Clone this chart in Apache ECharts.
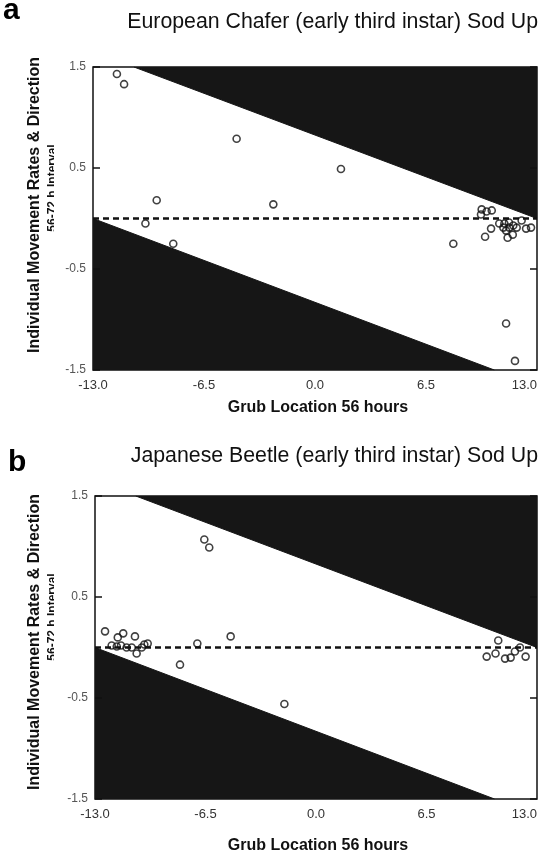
<!DOCTYPE html>
<html>
<head>
<meta charset="utf-8">
<script src="https://cdn.jsdelivr.net/npm/echarts@6/dist/echarts.min.js"></script>
<style>
html,body{margin:0;padding:0;background:#fff;}
#c{width:541px;height:854px;}
</style>
</head>
<body>
<div id="c"></div>
<script>
// ---------- data ----------
var xTicks = [-13, -6.5, 0, 6.5, 13];
var yTicks = [1.5, 0.5, -0.5, -1.5];

var chaferX = [-11.6, -11.18, -4.59, -9.27, -9.93, -8.30, -2.44, 1.52, 8.10, 11.19, 11.71,
  9.76, 10.05, 10.35, 9.72, 10.79, 11.09, 11.36, 12.10, 11.03, 11.38, 11.61, 11.19, 10.31, 9.96, 11.28, 11.58, 12.36, 12.65, 11.81];
var chaferY = [1.43, 1.33, 0.79, 0.18, -0.05, -0.25, 0.14, 0.49, -0.25, -1.04, -1.41,
  0.09, 0.07, 0.08, 0.04, -0.05, -0.05, -0.04, -0.02, -0.09, -0.09, -0.07, -0.12, -0.10, -0.18, -0.19, -0.16, -0.10, -0.09, -0.09];

var beetleX = [-6.57, -6.28, -8.0, -6.98, -5.02, -1.86,
  -12.41, -12.02, -11.72, -11.66, -11.47, -11.34, -11.14, -10.84, -10.65, -10.55, -10.25, -10.10, -9.90,
  10.72, 10.04, 10.56, 11.12, 11.45, 11.70, 12.0, 12.33];
var beetleY = [1.07, 0.99, -0.17, 0.04, 0.11, -0.56,
  0.16, 0.02, 0.01, 0.10, 0.02, 0.14, 0.0, 0.0, 0.11, -0.06, 0.0, 0.03, 0.04,
  0.07, -0.09, -0.06, -0.11, -0.10, -0.04, 0.0, -0.09];

// limits of possible movement (dark regions)
var upperBoundX = [-10.6, 13];
var upperBoundY = [1.5, 0];
var lowerBoundX = [-13, 10.5];
var lowerBoundY = [0, -1.5];
var zeroLineX = [-13, 13];
var zeroLineY = [0, 0];

var titles = ['European Chafer (early third instar) Sod Up', 'Japanese Beetle (early third instar) Sod Up'];
var panelLetters = ['a', 'b'];
var xTitle = 'Grub Location 56 hours';
var yTitle1 = 'Individual Movement Rates & Direction';
var yTitle2 = '56-72 h Interval';

// ---------- helpers ----------
function zip(xs, ys) { return xs.map(function (x, i) { return [x, ys[i]]; }); }
var FONT = '"Liberation Sans", Arial, Helvetica, sans-serif';
var DARK = '#161616';
var X_MIN = -13, X_MAX = 13;

var grids = [
  { left: 93, top: 67, width: 444, height: 303 },
  { left: 95, top: 496, width: 442, height: 303 }
];

var option = { animation: false, backgroundColor: '#fff', grid: [], xAxis: [], yAxis: [], series: [], graphic: [] };

// inward tick marks on both vertical frame edges, placed through the axis scales
function renderTicks(params, api) {
  var v = api.value(0);
  var p = api.coord([X_MIN, v]);
  var q = api.coord([X_MAX, v]);
  var st = { stroke: '#111', lineWidth: 1.5 };
  return { type: 'group', children: [
    { type: 'line', shape: { x1: p[0], y1: p[1], x2: p[0] + 7, y2: p[1] }, style: st },
    { type: 'line', shape: { x1: q[0] - 7, y1: q[1], x2: q[0], y2: q[1] }, style: st }
  ] };
}

grids.forEach(function (g, i) {
  option.grid.push({ left: g.left, top: g.top, width: g.width, height: g.height, show: true,
    containLabel: false, outerBoundsMode: 'none',
    borderColor: '#111', borderWidth: 1.5, backgroundColor: 'transparent' });
  option.xAxis.push({
    type: 'value', gridIndex: i, min: X_MIN, max: X_MAX, position: 'bottom',
    axisLine: { show: false, onZero: false }, axisTick: { show: false }, splitLine: { show: false },
    axisLabel: { customValues: xTicks, color: '#333', fontSize: 13, fontFamily: FONT, margin: 9,
      alignMaxLabel: 'right',
      formatter: function (v) { return v.toFixed(1); } }
  });
  option.yAxis.push({
    type: 'value', gridIndex: i, min: -1.5, max: 1.5, position: 'left',
    axisLine: { show: false, onZero: false }, splitLine: { show: false }, axisTick: { show: false },
    axisLabel: { customValues: yTicks, color: '#555', fontSize: 12, fontFamily: FONT, margin: 7,
      formatter: function (v) { return v.toFixed(1); } }
  });
  option.series.push({
    type: 'line', xAxisIndex: i, yAxisIndex: i, data: zip(upperBoundX, upperBoundY),
    symbol: 'none', lineStyle: { color: DARK, width: 1 }, areaStyle: { color: DARK, opacity: 1, origin: 'end' }, z: 1, silent: true
  });
  option.series.push({
    type: 'line', xAxisIndex: i, yAxisIndex: i, data: zip(lowerBoundX, lowerBoundY),
    symbol: 'none', lineStyle: { color: DARK, width: 1 }, areaStyle: { color: DARK, opacity: 1, origin: 'start' }, z: 1, silent: true
  });
  option.series.push({
    type: 'line', xAxisIndex: i, yAxisIndex: i, data: zip(zeroLineX, zeroLineY),
    symbol: 'none', lineStyle: { color: '#111', width: 2.4, type: [6, 4] }, z: 2, silent: true
  });
  option.series.push({
    type: 'custom', xAxisIndex: i, yAxisIndex: i, data: yTicks.map(function (v) { return [v]; }),
    encode: { y: 0 }, renderItem: renderTicks, clip: false, silent: true, z: 4
  });
  option.series.push({
    type: 'scatter', xAxisIndex: i, yAxisIndex: i,
    data: i === 0 ? zip(chaferX, chaferY) : zip(beetleX, beetleY),
    symbol: 'circle', symbolSize: 7,
    itemStyle: { color: 'rgba(255,255,255,0)', borderColor: '#111', borderWidth: 1.6 }, z: 3
  });
});

var titleY = [22, 456];
var letterY = [-4, 448];
var xTitleY = [408, 846];
var yTitleC = [205, 642];
var yTitle2C = [188, 617];
[0, 1].forEach(function (i) {
  option.graphic.push({ type: 'text', x: 538, y: titleY[i],
    style: { text: titles[i], font: '21.3px ' + FONT, fill: '#111', textAlign: 'right', textVerticalAlign: 'middle' } });
  option.graphic.push({ type: 'text', x: i === 0 ? 3 : 8, y: letterY[i],
    style: { text: panelLetters[i], font: 'bold 30px ' + FONT, fill: '#000', textAlign: 'left', textVerticalAlign: 'top' } });
  option.graphic.push({ type: 'text', x: 318, y: xTitleY[i],
    style: { text: xTitle, font: 'bold 16px ' + FONT, fill: '#111', textAlign: 'center', textVerticalAlign: 'middle' } });
  option.graphic.push({ type: 'text', x: 35, y: yTitleC[i], rotation: Math.PI / 2,
    style: { text: yTitle1, font: 'bold 16px ' + FONT, fill: '#111', textAlign: 'center', textVerticalAlign: 'middle' } });
  option.graphic.push({ type: 'text', x: 53, y: yTitle2C[i], rotation: Math.PI / 2,
    style: { text: yTitle2, font: 'bold 12px ' + FONT, fill: '#111', textAlign: 'center', textVerticalAlign: 'middle' } });
  option.graphic.push({ type: 'rect', shape: { x: 54, y: yTitle2C[i] - 50, width: 7, height: 100 },
    style: { fill: '#fff' }, z: 200 });
});

var chart = echarts.init(document.getElementById('c'), null, { renderer: 'canvas' });
chart.setOption(option);
</script>
</body>
</html>
